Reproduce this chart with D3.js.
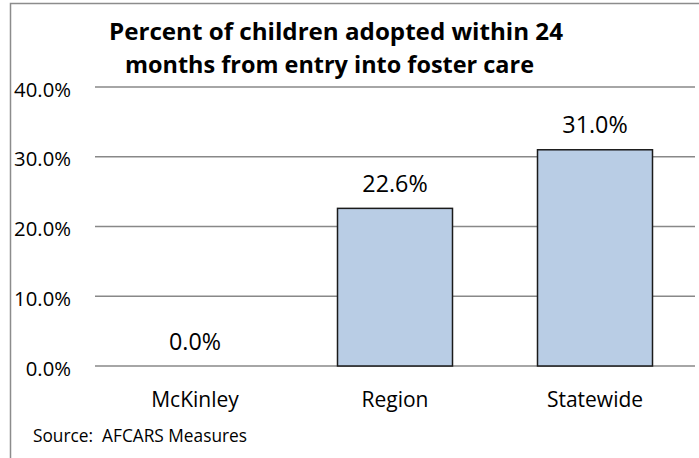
<!DOCTYPE html>
<html><head><meta charset="utf-8">
<script src="https://cdn.jsdelivr.net/npm/d3@7"></script>
<style>body{margin:0;background:#fff}svg{display:block}text{font-family:"Open Sans",sans-serif;fill:#000}</style>
</head><body><svg id="c" width="699" height="458"></svg>
<script>
const categories = ["McKinley", "Region", "Statewide"];
const values = [0.0, 22.6, 31.0];
const yTicks = [0, 10, 20, 30, 40];
const titleLines = ["Percent of children adopted within 24", "months from entry into foster care"];
const sourceText = "Source:  AFCARS Measures";

const svg = d3.select("#c");
const W = 699, H = 458;
const plot = {left: 95, right: 695, top: 87, bottom: 366};

// outer border
svg.append("path").attr("d", `M10.5,${H}V3.5H${W}`).attr("fill","none").attr("stroke","#8c8c8c").attr("stroke-width",1.5);

const x = d3.scaleBand().domain(categories).range([plot.left, plot.right]).paddingInner(0.425).paddingOuter(0.2125);
const y = d3.scaleLinear().domain([0, 40]).range([plot.bottom, plot.top]);
const fmt = d => d3.format(".1f")(d) + "%";

// gridlines
svg.append("g").selectAll("line").data(yTicks).join("line")
  .attr("x1", plot.left).attr("x2", plot.right)
  .attr("y1", d => y(d)).attr("y2", d => y(d))
  .attr("stroke", "#888").attr("stroke-width", 1.6);

// y axis labels
const yAxis = d3.axisLeft(y).tickValues(yTicks).tickSize(0).tickPadding(0).tickFormat(fmt);
const gy = svg.append("g").attr("transform", "translate(71,0)").call(yAxis);
gy.select(".domain").remove();
gy.selectAll("text").attr("font-size", 20.3).attr("font-family", "Open Sans").attr("dy", "0.45em").attr("fill","#000");

// bars
svg.append("g").selectAll("rect").data(values).join("rect")
  .attr("x", (d,i) => x(categories[i]))
  .attr("width", x.bandwidth())
  .attr("y", d => y(d))
  .attr("height", d => y(0) - y(d))
  .attr("fill", "#b9cde5")
  .attr("stroke", d => d > 0 ? "#1a1a1a" : "none").attr("stroke-width", 1.5);

// value labels
svg.append("g").selectAll("text").data(values).join("text")
  .attr("x", (d,i) => x(categories[i]) + x.bandwidth()/2)
  .attr("y", d => y(d) - 16.5)
  .attr("text-anchor", "middle").attr("font-size", 23.3)
  .text(fmt);

// x axis labels
const xAxis = d3.axisBottom(x).tickSize(0).tickPadding(0);
const gx = svg.append("g").attr("transform", "translate(0,406.5)").call(xAxis);
gx.select(".domain").remove();
gx.selectAll("text").attr("font-size", 21).attr("font-family","Open Sans").attr("fill","#000").attr("dy", null);

// title
const titleX = [109, 125], titleW = [454, 409];
svg.append("g").selectAll("text").data(titleLines).join("text")
  .attr("x", (d,i) => titleX[i]).attr("y", (d,i) => 40 + i*33.3)
  .attr("font-size", 24).attr("font-weight", "bold")
  .attr("textLength", (d,i) => titleW[i]).attr("lengthAdjust", "spacingAndGlyphs")
  .text(d => d);

// source
svg.append("text").attr("x", 33).attr("y", 441.5).attr("font-size", 17.3).style("white-space","pre").text(sourceText);
</script></body></html>
